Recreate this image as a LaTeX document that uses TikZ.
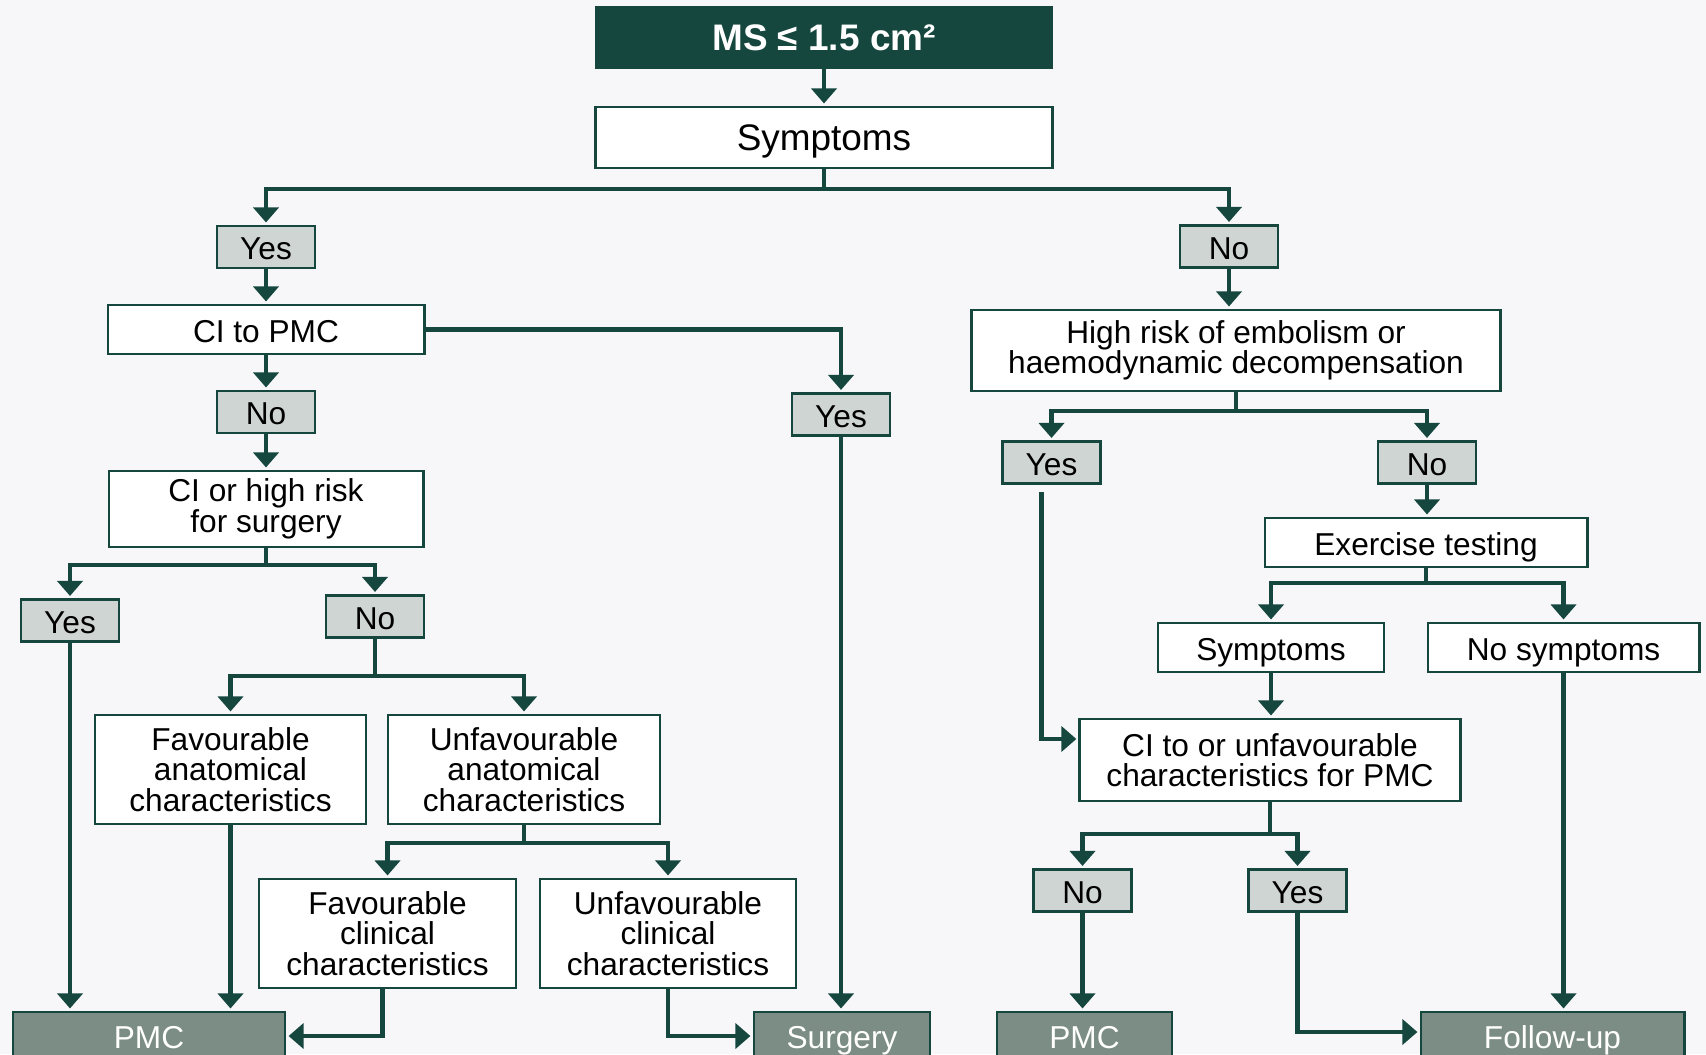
\documentclass[tikz,border=0pt]{standalone}
\usepackage{fontspec}
\setmainfont{Liberation Sans}
\usepackage{xcolor}
\usetikzlibrary{arrows.meta,positioning,calc}
\definecolor{esgreen}{HTML}{15473F}
\definecolor{esgrey}{HTML}{CFD5D2}
\definecolor{esout}{HTML}{7B8D84}
\definecolor{esback}{HTML}{F7F7FA}

\begin{document}
\begin{tikzpicture}[x=0.01cm,y=-0.01cm,
  box/.style={draw=esgreen, line width=0.8pt, fill=white, font=\fontsize{9}{8.7}\selectfont, align=center, inner sep=0pt, minimum height=0.49cm},
  oneline/.style={text height=0.72em, text depth=0pt},
  head/.style={box, oneline, fill=esgreen, text=white, font=\fontsize{10.5}{12}\selectfont\bfseries, minimum width=4.54cm, minimum height=0.61cm},
  answer/.style={box, oneline, fill=esgrey, minimum width=0.98cm, minimum height=0.42cm},
  outcome/.style={box, oneline, fill=esout, text=white, minimum height=0.48cm},
  link/.style={esgreen, line width=1.15pt},
  arc/.style={link, shorten >=0.6pt, -{Triangle[length=1.5mm, width=2.5mm]}}]
  \useasboundingbox (0,0) rectangle (1706,1054);
  \clip (0,0) rectangle (1706,1054);
  \fill[esback] (0,0) rectangle (1706,1054);
  % top
  \node[head] (ms) at (824,37.5) {MS ≤ 1.5 cm²};
  \node[box, oneline, minimum width=4.56cm, minimum height=0.61cm, font=\fontsize{10.5}{12}\selectfont] (sym) at (824,137.5) {Symptoms};
  % symptomatic
  \node[answer] (yA) at (266,247) {Yes};
  \node[box, oneline, minimum width=3.16cm] (ciA) at (266,329.5) {CI to PMC};
  \node[answer] (nA) at (266,412) {No};
  \node[box, minimum width=3.14cm, minimum height=0.76cm] (ciB) at (266,509) {CI or high risk\\for surgery};
  \node[answer] (yB) at (70,620.5) {Yes};
  \node[answer] (nB) at (375,616.5) {No};
  \node[box, minimum width=2.71cm, minimum height=1.09cm] (favA) at (230.5,769.5) {Favourable\\anatomical\\characteristics};
  \node[box, minimum width=2.72cm, minimum height=1.09cm] (unfA) at (524,769.5) {Unfavourable\\anatomical\\characteristics};
  \node[box, minimum width=2.57cm, minimum height=1.09cm] (favC) at (387.5,933.5) {Favourable\\clinical\\characteristics};
  \node[box, minimum width=2.56cm, minimum height=1.09cm] (unfC) at (668,933.5) {Unfavourable\\clinical\\characteristics};
  \node[answer] (yC) at (841,414.5) {Yes};
  \node[outcome, minimum width=2.72cm] (pmcA) at (149,1036) {PMC};
  \node[outcome, minimum width=1.76cm] (surg) at (842,1036) {Surgery};
  % asymptomatic
  \node[answer] (nC) at (1229,246.5) {No};
  \node[box, minimum width=5.28cm, minimum height=0.81cm] (risk) at (1236,350.5) {High risk of embolism or\\haemodynamic decompensation};
  \node[answer] (yD) at (1051.5,462.5) {Yes};
  \node[answer] (nD) at (1427,462.5) {No};
  \node[box, oneline, minimum width=3.22cm] (ex) at (1426,542.5) {Exercise testing};
  \node[box, oneline, minimum width=2.26cm] (symB) at (1271,647.5) {Symptoms};
  \node[box, oneline, minimum width=2.71cm] (nosym) at (1563.5,647.5) {No symptoms};
  \node[box, minimum width=3.80cm, minimum height=0.82cm] (ciC) at (1270,760) {CI to or unfavourable\\characteristics for PMC};
  \node[answer] (nE) at (1082.5,890.5) {No};
  \node[answer] (yE) at (1297.5,890.5) {Yes};
  \node[outcome, minimum width=1.75cm] (pmcB) at (1084.5,1036) {PMC};
  \node[outcome, minimum width=2.63cm] (fu) at (1552.5,1036) {Follow-up};
  % links, left
  \draw[arc] (ms) -- (sym);
  \draw[link] (sym.south) -- ++(0,20) coordinate (jS);
  \draw[arc] (jS) -| (yA);
  \draw[arc] (jS) -| (nC);
  \draw[arc] (yA) -- (ciA);
  \draw[arc] (ciA) -- (nA);
  \draw[arc] (ciA.east) -| (yC);
  \draw[arc] (nA) -- (ciB);
  \draw[link] (ciB.south) -- ++(0,17) coordinate (jB);
  \draw[arc] (jB) -| (yB);
  \draw[arc] (jB) -| (nB);
  \draw[arc] (yB) -- (yB |- pmcA.north);
  \draw[link] (nB.south) -- ++(0,37) coordinate (jN);
  \draw[arc] (jN) -| (favA);
  \draw[arc] (jN) -| (unfA);
  \draw[arc] (favA) -- (favA |- pmcA.north);
  \draw[link] (unfA.south) -- ++(0,18) coordinate (jU);
  \draw[arc] (jU) -| (favC);
  \draw[arc] (jU) -| (unfC);
  \draw[arc] ([xshift=-0.05cm]favC.south) |- (pmcA);
  \draw[arc] (unfC.south) |- (surg);
  \draw[arc] (yC) -- (yC |- surg.north);
  % links, right
  \draw[arc] (nC) -- (nC |- risk.north);
  \draw[link] (risk.south) -- ++(0,19) coordinate (jR);
  \draw[arc] (jR) -| (yD);
  \draw[arc] (jR) -| (nD);
  \draw[arc] (nD) -- (nD |- ex.north);
  \draw[arc] ([xshift=-1mm,yshift=-0.7mm]yD.south) |- ([yshift=0.21cm]ciC.west);
  \draw[link] (ex.south) -- ++(0,15) coordinate (jE);
  \draw[arc] (jE) -| (symB);
  \draw[arc] (jE) -| (nosym);
  \draw[arc] (symB) -- (symB |- ciC.north);
  \draw[arc] (nosym) -- (nosym |- fu.north);
  \draw[link] (ciC.south) -- ++(0,32) coordinate (jC);
  \draw[arc] (jC) -| (nE);
  \draw[arc] (jC) -| (yE);
  \draw[arc] (nE) -- (nE |- pmcB.north);
  \draw[arc] (yE.south) |- ([yshift=0.04cm]fu.west);
\end{tikzpicture}
\end{document}
